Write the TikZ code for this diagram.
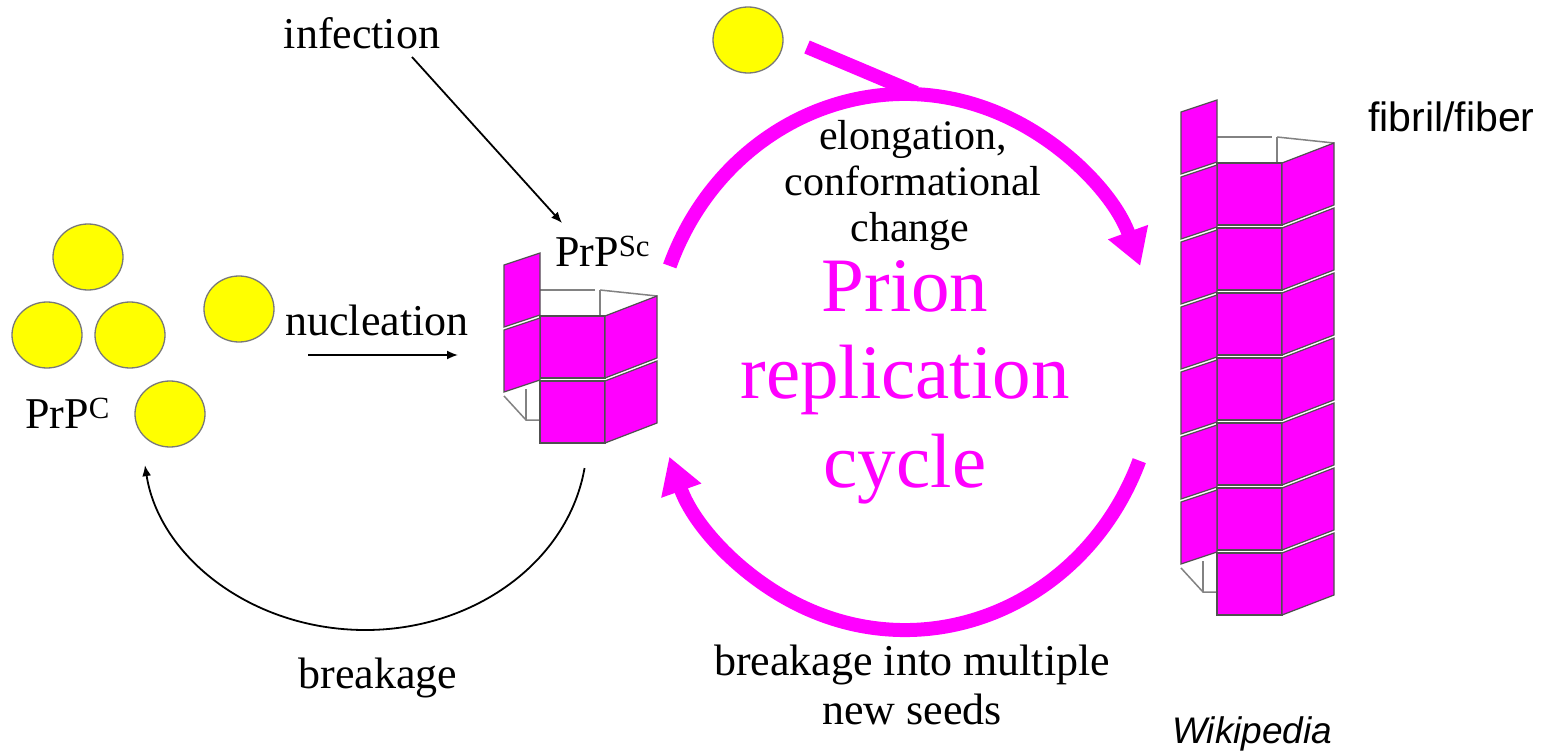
\documentclass[tikz,border=0pt]{standalone}
\usepackage{fontspec}
\setmainfont{Liberation Serif}
\newfontfamily\arialfont{Liberation Sans}
\usetikzlibrary{arrows.meta}

\definecolor{prionmag}{RGB}{255,0,255}
\definecolor{prpyellow}{RGB}{255,255,0}
\definecolor{rimgray}{RGB}{120,120,120}
\definecolor{edgegray}{RGB}{80,80,80}
\definecolor{backgray}{RGB}{130,130,130}

% One stacked fibril: front-left corner of the top front panel at (#1,#2), #3 layers
\newcommand\drawfibril[3]{%
  \pgfmathsetmacro\fbot{#2+65*#3-3}
  % hidden back edges
  \draw[backline] (#1,#2-26) -- (#1+55,#2-26);
  \draw[backline] (#1+60,#2-26) -- (#1+60,#2);
  \draw[backline] (#1+60,#2-26) -- (#1+117,#2-20);
  \draw[backline] (#1-36,\fbot-47) -- (#1-14,\fbot-23) -- (#1,\fbot-23);
  \draw[backline] (#1-14,\fbot-54) -- (#1-14,\fbot-23);
  \foreach \i in {1,...,#3}{
    \pgfmathsetmacro\yt{#2+65*(\i-1)}
    % left face (one layer higher)
    \draw[panel] (#1-36,\yt-51) -- (#1,\yt-63) -- (#1,\yt-1) -- (#1-36,\yt+11) -- cycle;
    % front face
    \draw[panel] (#1,\yt) rectangle (#1+65,\yt+62);
    % right face
    \draw[panel] (#1+65,\yt) -- (#1+117,\yt-20) -- (#1+117,\yt+42) -- (#1+65,\yt+62) -- cycle;
  }%
}

\tikzset{
  panel/.style={fill=prionmag, draw=edgegray, line width=1.2pt, line join=miter},
  backline/.style={draw=backgray, line width=1.5pt},
  label/.style={inner sep=0pt, font=\fontsize{44}{50}\selectfont, text=black},
  smalllabel/.style={inner sep=0pt, font=\fontsize{42}{48}\selectfont, text=black},
  cyclelabel/.style={inner sep=0pt, text=prionmag, font=\fontsize{77}{89}\selectfont},
  thinarrow/.style={line width=1.8pt, -{Latex[length=11pt,width=9pt]}},
  bigarrow/.style={draw=prionmag, line width=14pt, -{Triangle[length=36pt,width=40pt]}},
}

\begin{document}
\begin{tikzpicture}[x=1pt, y=-1pt]
\useasboundingbox[fill=white] (0,0) rectangle (1560,751);

% PrP^C monomers
\foreach \n/\cx/\cy in {c1/88/257, c2/47/335, c3/130/335, c4/239/309, c5/170/414, c6/748/40}{
  \fill[prpyellow] (\cx,\cy) ellipse [x radius=35, y radius=33];
  \draw[rimgray, line width=1.3pt] (\cx,\cy) ellipse [x radius=35, y radius=33];
  \coordinate (\n) at (\cx,\cy);
}

% fibrils
\drawfibril{540}{316}{2}
\drawfibril{1217}{163}{7}

% replication cycle arrows
\coordinate (ringc) at (905,362);
\draw[bigarrow] ([shift={(-159:252 and 268)}]ringc) arc[start angle=-159, end angle=-21, x radius=252, y radius=268];
\draw[bigarrow] ([shift={(21.6:252 and 268)}]ringc) arc[start angle=21.6, end angle=159.3, x radius=252, y radius=268];
\coordinate (joinA) at (807,47);
\coordinate (joinB) at (916,93);
\draw[prionmag, line width=14pt] (joinA) -- (joinB);

% black arrows
\coordinate (infTail) at (412,57);
\coordinate (infHead) at (562,223);
\draw[thinarrow] (infTail) -- (infHead);
\coordinate (nucTail) at (308,355);
\coordinate (nucHead) at (458,355);
\draw[thinarrow] (nucTail) -- (nucHead);
\coordinate (brkc) at (365,440);
\draw[thinarrow] ([shift={(8.5:222 and 190)}]brkc) arc[start angle=8.5, end angle=172.4, x radius=222, y radius=190];

% labels
\node[label, anchor=base] (infection) at (362,49) {infection};
\node[label, anchor=base] (nucleation) at (377,335) {nucleation};
\node[label, anchor=base west] (prpsc) at (555,266) {PrP\textsuperscript{Sc}};
\node[label, anchor=base west] (prpc) at (25,428) {PrP\textsuperscript{C}};
\node[label, anchor=base] (breakage) at (378,688) {breakage};
\node[smalllabel, anchor=base] (elong1) at (913,150) {elongation,};
\node[smalllabel, anchor=base] (elong2) at (913,196) {conformational};
\node[smalllabel, anchor=base] (elong3) at (910,242) {change};
\node[label, anchor=base] (seeds1) at (912,675) {breakage into multiple};
\node[label, anchor=base] (seeds2) at (912,724) {new seeds};
\node[cyclelabel, anchor=base] (cyc1) at (905,311) {Prion};
\node[cyclelabel, anchor=base] (cyc2) at (905,398) {replication};
\node[cyclelabel, anchor=base] (cyc3) at (905,487) {cycle};
\node[inner sep=0pt, anchor=base west, font=\arialfont\fontsize{41}{48}\selectfont] (fibril) at (1368,132) {fibril/fiber};
\node[inner sep=0pt, anchor=base west, font=\arialfont\itshape\fontsize{37}{44}\selectfont] (wiki) at (1172,743) {Wikipedia};
\end{tikzpicture}
\end{document}
